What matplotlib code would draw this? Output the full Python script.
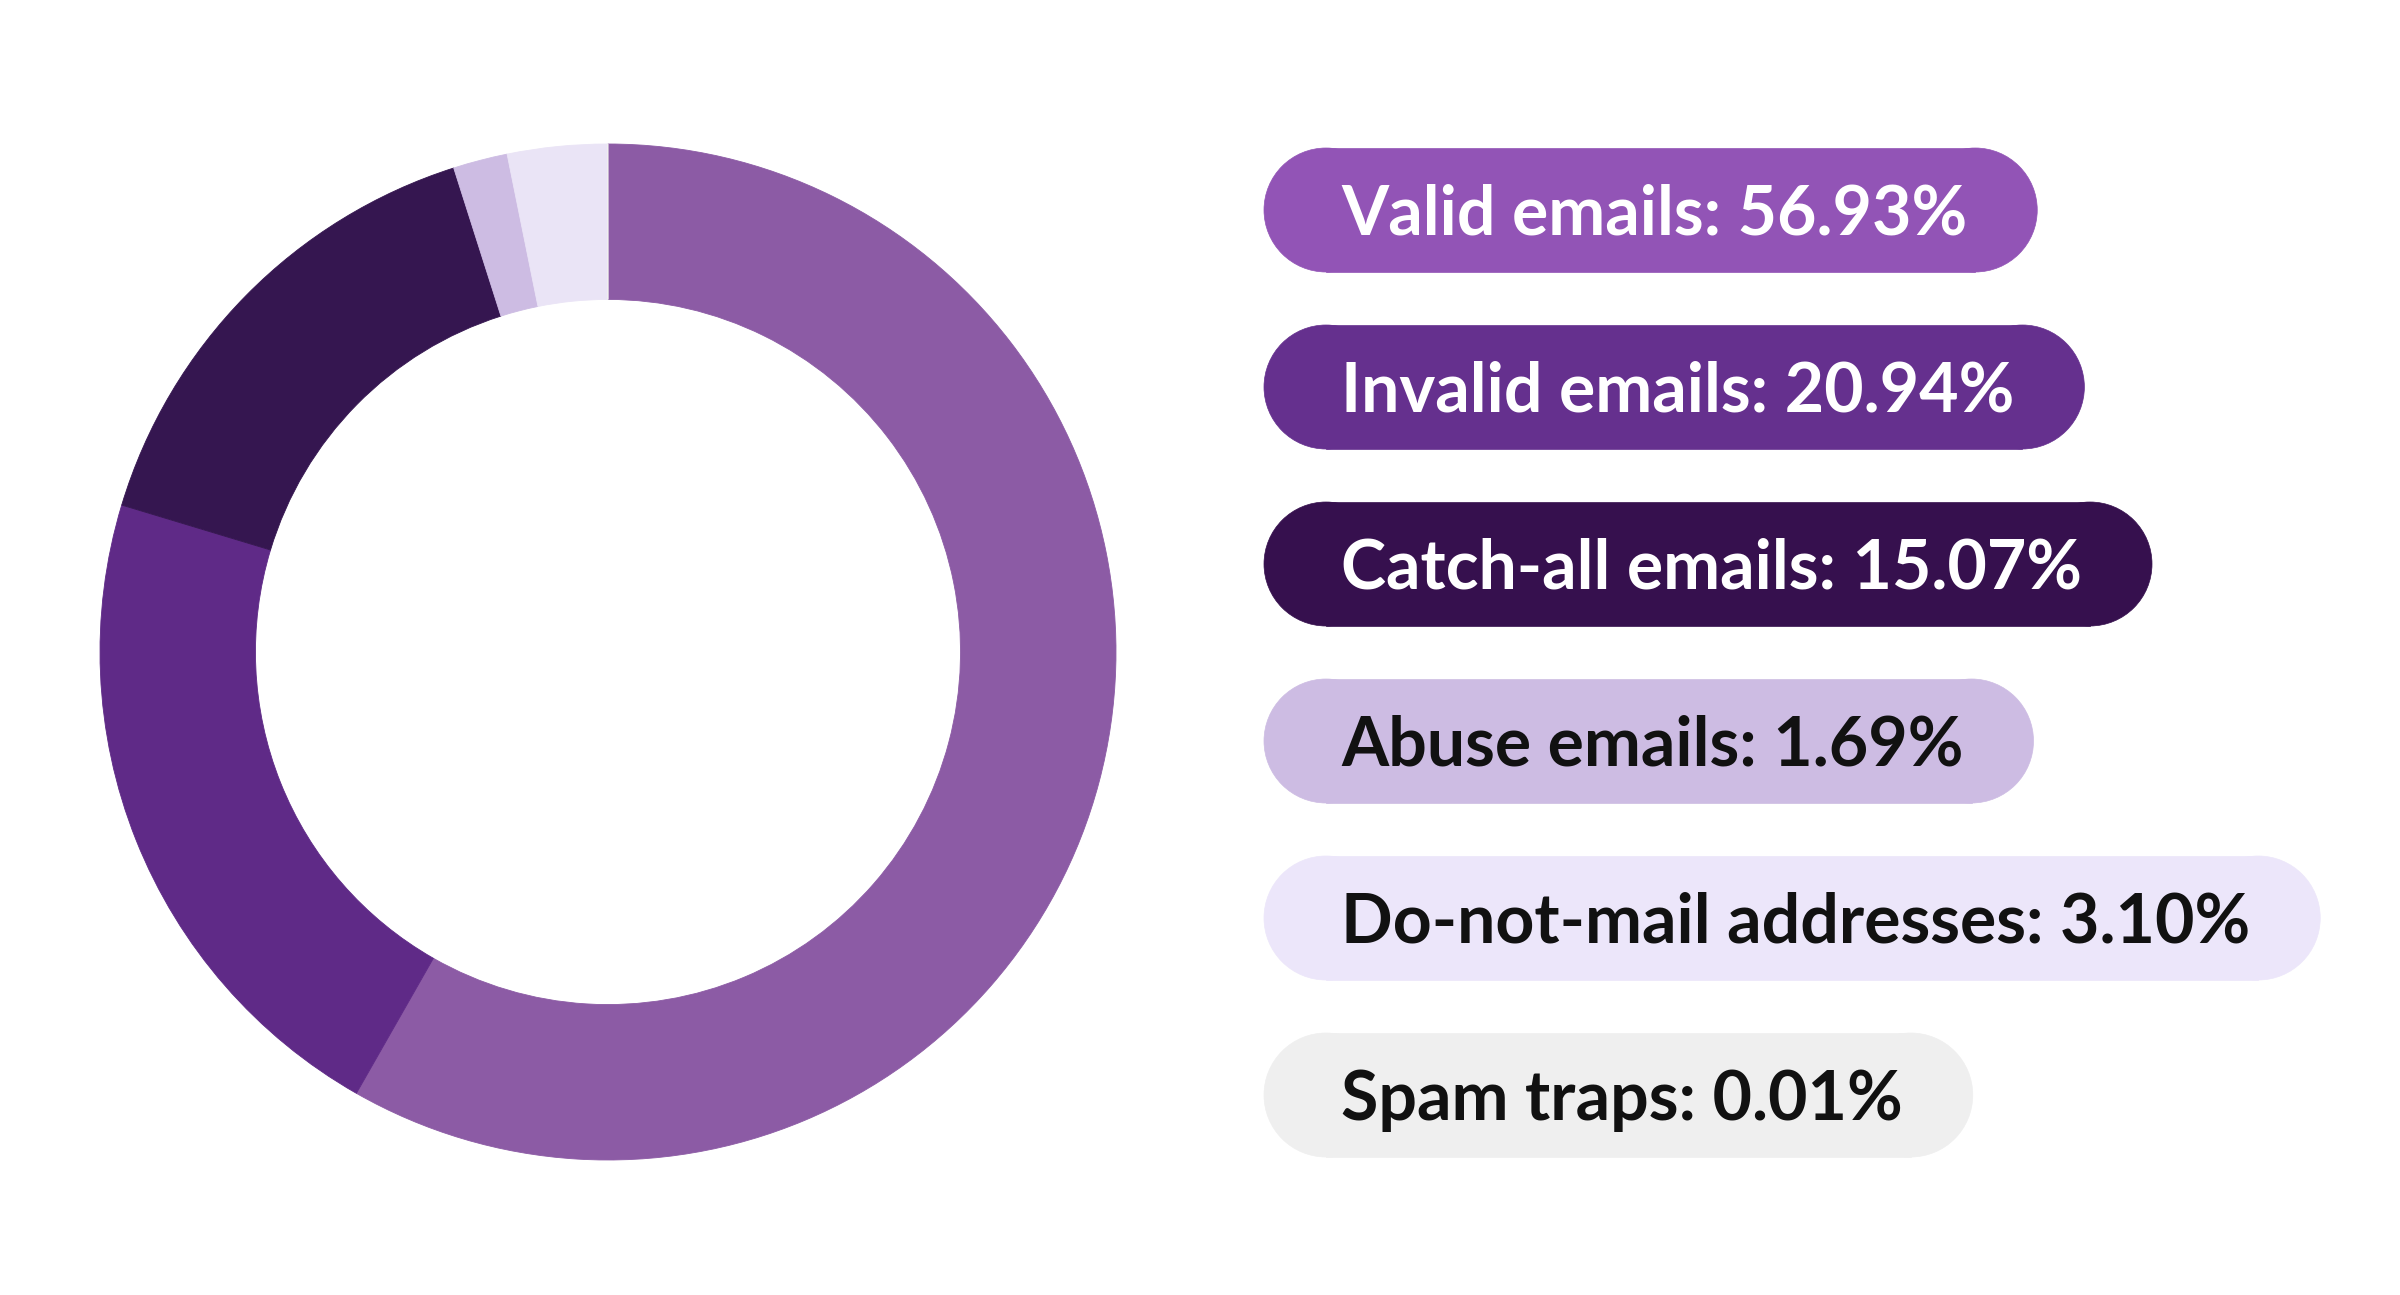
import matplotlib
matplotlib.use("Agg")
import matplotlib.pyplot as plt
from matplotlib.patches import Rectangle, Ellipse

# data
labels = ["Valid emails", "Invalid emails", "Catch-all emails", "Abuse emails",
          "Do-not-mail addresses", "Spam traps"]
shares = [56.93, 20.94, 15.07, 1.69, 3.10, 0.01]
ring_colors = ["#8C5BA5", "#5F2A87", "#351650", "#CDBCE3", "#EAE4F6", "#EFEFEF"]
pill_colors = ["#9254B6", "#65308E", "#36104E", "#CDBCE3", "#ECE6FA", "#EFEFEF"]
text_colors = ["white", "white", "white", "#111111", "#111111", "#111111"]

W, H = 2400, 1295
fig = plt.figure(figsize=(W / 100, H / 100), dpi=100)
fig.patch.set_facecolor("white")

# donut: centre (608, 652) px, outer radius 508 px
cx, cy, r = 608, 652, 508
ax = fig.add_axes([(cx - r) / W, (H - cy - r) / H, 2 * r / W, 2 * r / H])
ax.pie(shares, colors=ring_colors, startangle=90, counterclock=False, radius=1,
       wedgeprops=dict(width=0.306, linewidth=0.6))
for w, c in zip(ax.patches, ring_colors):
    w.set_edgecolor(c)
ax.set_xlim(-1, 1)
ax.set_ylim(-1, 1)
ax.set_aspect("equal")
ax.axis("off")

# pills on a pixel-space overlay (y grows downwards)
ov = fig.add_axes([0, 0, 1, 1])
ov.set_xlim(0, W)
ov.set_ylim(H, 0)
ov.axis("off")

left = 1264
pad_l, pad_r = 77, 70
pill_h = 124
first_y = 210
step = 177
cap = 49

texts = []
for i, (lab, val) in enumerate(zip(labels, shares)):
    yc = first_y + i * step
    t = ov.text(left + pad_l, yc + cap / 2, f"{lab}: {val:.2f}%", ha="left", va="baseline",
                fontsize=49, fontfamily="Lato", fontweight="bold", color=text_colors[i], zorder=3)
    texts.append((t, yc))

fig.canvas.draw()
renderer = fig.canvas.get_renderer()
inv = ov.transData.inverted()
rad = pill_h / 2
for i, (t, yc) in enumerate(texts):
    bb = t.get_window_extent(renderer)
    right = inv.transform((bb.x1, bb.y1))[0] + pad_r
    c = pill_colors[i]
    ov.add_patch(Rectangle((left + rad, yc - rad), right - left - 2 * rad, pill_h,
                           facecolor=c, edgecolor=c, lw=0.5, zorder=2))
    for ex in (left + rad, right - rad):
        ov.add_patch(Ellipse((ex, yc), pill_h, pill_h, facecolor=c, edgecolor=c, lw=0.5, zorder=2))

fig.savefig("out.png", dpi=100, facecolor="white")
